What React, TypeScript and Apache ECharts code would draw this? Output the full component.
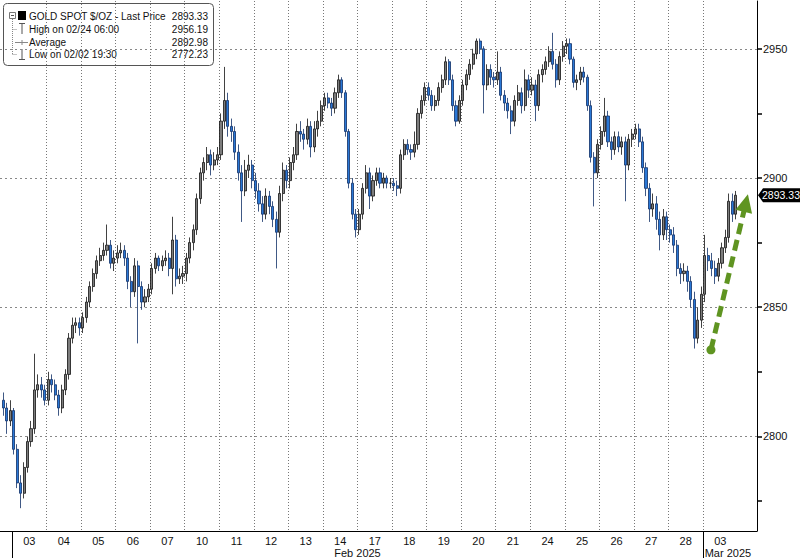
import React, { useEffect, useRef } from "react";
import * as echarts from "echarts";

// ---- Data ----
const dayLabels = ["03", "04", "05", "06", "07", "10", "11", "12", "13", "14", "17", "18", "19", "20", "21", "24", "25", "26", "27", "28", "03"];
const monthLabels = ["Feb 2025", "Mar 2025"];
const yTickValues = [2775, 2800, 2825, 2850, 2875, 2900, 2925, 2950];
const yLabelValues = [2800, 2850, 2900, 2950];

// bars of the previous session (Jan 31) visible at the left edge
const firstOpen = 2814;
const preCloses = [2811, 2806, 2810];
const preHighs = [2817, 2813, 2814];
const preLows = [2808, 2801, 2804];

// one row per trading day, 10 bars per day; open = previous close
const closes: number[][] = [
  [2795, 2782, 2778, 2788, 2798, 2803, 2818, 2820, 2818, 2814],
  [2822, 2820, 2816, 2811, 2818, 2824, 2838, 2843, 2844, 2842],
  [2846, 2852, 2858, 2863, 2868, 2870, 2872, 2874, 2867, 2869],
  [2871, 2872, 2869, 2860, 2856, 2866, 2858, 2852, 2854, 2857],
  [2865, 2869, 2866, 2868, 2869, 2865, 2876, 2861, 2862, 2863],
  [2869, 2875, 2880, 2892, 2902, 2906, 2909, 2905, 2907, 2909],
  [2922, 2930, 2920, 2918, 2910, 2902, 2895, 2903, 2905, 2899],
  [2895, 2890, 2886, 2893, 2889, 2884, 2879, 2894, 2903, 2899],
  [2906, 2909, 2918, 2917, 2915, 2920, 2912, 2919, 2922, 2928],
  [2931, 2929, 2927, 2933, 2938, 2933, 2918, 2898, 2886, 2880],
  [2886, 2896, 2902, 2893, 2899, 2902, 2898, 2900, 2898, 2898],
  [2897, 2896, 2909, 2913, 2911, 2910, 2913, 2925, 2930, 2935],
  [2932, 2928, 2930, 2935, 2938, 2945, 2938, 2928, 2922, 2930],
  [2936, 2940, 2944, 2948, 2953, 2950, 2936, 2942, 2939, 2938],
  [2941, 2932, 2929, 2926, 2922, 2930, 2933, 2928, 2938, 2934],
  [2936, 2928, 2940, 2942, 2945, 2949, 2944, 2938, 2947, 2951],
  [2952, 2946, 2937, 2938, 2941, 2939, 2928, 2908, 2902, 2913],
  [2918, 2924, 2914, 2911, 2916, 2912, 2914, 2905, 2915, 2917],
  [2919, 2914, 2904, 2896, 2888, 2890, 2884, 2878, 2885, 2880],
  [2878, 2874, 2865, 2863, 2864, 2860, 2853, 2838, 2845, 2855],
  [2870, 2868, 2865, 2862, 2867, 2873, 2877, 2891, 2886, 2893.33],
];
const highs: number[][] = [
  [2811, 2797, 2785, 2790, 2800, 2806, 2832, 2824, 2823, 2820],
  [2825, 2824, 2822, 2818, 2820, 2826, 2840, 2846, 2846, 2846],
  [2848, 2854, 2860, 2865, 2870, 2873, 2875, 2882, 2876, 2872],
  [2874, 2875, 2874, 2871, 2862, 2869, 2868, 2860, 2857, 2859],
  [2867, 2871, 2870, 2870, 2872, 2871, 2885, 2878, 2865, 2866],
  [2871, 2877, 2882, 2894, 2904, 2908, 2912, 2911, 2910, 2912],
  [2925, 2943, 2933, 2923, 2920, 2913, 2905, 2907, 2909, 2907],
  [2902, 2898, 2893, 2896, 2895, 2891, 2887, 2897, 2906, 2905],
  [2908, 2912, 2921, 2922, 2919, 2923, 2922, 2922, 2926, 2930],
  [2933, 2933, 2931, 2935, 2940, 2939, 2934, 2919, 2900, 2888],
  [2888, 2898, 2905, 2904, 2901, 2904, 2904, 2902, 2901, 2900],
  [2900, 2899, 2911, 2915, 2915, 2913, 2918, 2927, 2932, 2937],
  [2937, 2934, 2932, 2937, 2940, 2947, 2946, 2940, 2930, 2932],
  [2938, 2942, 2946, 2950, 2954, 2954, 2951, 2944, 2944, 2941],
  [2949, 2943, 2934, 2931, 2928, 2932, 2936, 2935, 2942, 2940],
  [2939, 2938, 2942, 2944, 2947, 2951, 2956.19, 2946, 2949, 2953],
  [2954, 2954, 2947, 2940, 2943, 2943, 2940, 2930, 2910, 2915],
  [2920, 2931, 2926, 2916, 2918, 2918, 2916, 2916, 2917, 2919],
  [2921, 2921, 2916, 2906, 2898, 2894, 2893, 2887, 2888, 2887],
  [2882, 2881, 2876, 2867, 2867, 2866, 2862, 2856, 2850, 2858],
  [2878, 2873, 2871, 2868, 2869, 2875, 2880, 2894, 2894, 2895],
];
const lows: number[][] = [
  [2793, 2780, 2772.23, 2776, 2786, 2796, 2801, 2815, 2815, 2812],
  [2812, 2817, 2814, 2808, 2809, 2816, 2822, 2836, 2840, 2839],
  [2840, 2844, 2850, 2856, 2861, 2866, 2868, 2870, 2865, 2864],
  [2867, 2869, 2866, 2857, 2850, 2854, 2836, 2849, 2850, 2852],
  [2855, 2863, 2864, 2864, 2866, 2862, 2855, 2858, 2859, 2859],
  [2860, 2867, 2872, 2878, 2890, 2899, 2903, 2901, 2903, 2905],
  [2907, 2919, 2916, 2914, 2907, 2899, 2883, 2893, 2900, 2896],
  [2892, 2887, 2883, 2884, 2886, 2881, 2865, 2877, 2891, 2896],
  [2896, 2903, 2907, 2914, 2911, 2913, 2908, 2910, 2916, 2920],
  [2926, 2927, 2924, 2925, 2931, 2931, 2916, 2896, 2884, 2877],
  [2878, 2884, 2894, 2888, 2891, 2897, 2896, 2896, 2896, 2896],
  [2895, 2893, 2894, 2907, 2909, 2907, 2908, 2911, 2923, 2928],
  [2930, 2926, 2926, 2928, 2933, 2936, 2936, 2926, 2920, 2921],
  [2928, 2934, 2938, 2942, 2946, 2948, 2925, 2934, 2936, 2935],
  [2936, 2930, 2926, 2923, 2917, 2920, 2928, 2925, 2926, 2931],
  [2932, 2922, 2926, 2937, 2940, 2943, 2942, 2935, 2936, 2945],
  [2948, 2944, 2935, 2934, 2936, 2937, 2926, 2906, 2889, 2900],
  [2911, 2916, 2912, 2907, 2909, 2910, 2909, 2891, 2903, 2912],
  [2915, 2912, 2902, 2893, 2883, 2885, 2880, 2872, 2876, 2876],
  [2875, 2871, 2862, 2859, 2860, 2856, 2850, 2834, 2836, 2842],
  [2852, 2864, 2862, 2859, 2860, 2865, 2871, 2875, 2883, 2884],
];

const lastPrice = 2893.33;
const legendRows = [
  { name: "GOLD SPOT $/OZ - Last Price", value: "2893.33" },
  { name: "High on 02/24 06:00", value: "2956.19" },
  { name: "Average", value: "2892.98" },
  { name: "Low on 02/02 19:30", value: "2772.23" },
];
// trend arrow annotation: [day position, price]
const arrowFrom = [20.23, 2833.5];
const arrowTo = [21.24, 2890.3];

// ---- layout constants ----
const X_MIN = -0.347;
const X_MAX = 21.563;
const Y_MIN = 2763.4;
const Y_MAX = 2968.5;
const BARS_PER_DAY = 10;
const FONT = "'Liberation Sans', Arial, sans-serif";

function buildBars() {
  const bars: number[][] = [];
  let prev = firstOpen;
  preCloses.forEach((c, i) => {
    bars.push([-0.3 + (i + 0.5) / BARS_PER_DAY, prev, c, preLows[i], preHighs[i]]);
    prev = c;
  });
  closes.forEach((row, d) => {
    row.forEach((c, i) => {
      bars.push([d + (i + 0.5) / BARS_PER_DAY, prev, c, lows[d][i], highs[d][i]]);
      prev = c;
    });
  });
  return bars;
}

export default function App() {
  const ref = useRef<HTMLDivElement>(null);
  useEffect(() => {
    if (!ref.current) return;
    const chart = echarts.init(ref.current, null, { renderer: "svg" });
    const boundaries = dayLabels.map((_, i) => i).filter((i) => i > 0);
    const centers = dayLabels.map((_, i) => i + 0.5);
    const rowY = [16, 29, 42, 54];

    const legendGraphics: any[] = [
      { type: "rect", shape: { x: 3.5, y: 3.5, width: 210, height: 62, r: 4 }, style: { fill: "#fff", stroke: "#555", lineWidth: 1 } },
      { type: "rect", shape: { x: 9.5, y: 12.5, width: 6, height: 6 }, style: { fill: "#fff", stroke: "#777", lineWidth: 1 } },
      { type: "line", shape: { x1: 11, y1: 15.5, x2: 14, y2: 15.5 }, style: { stroke: "#555", lineWidth: 1 } },
      { type: "line", shape: { x1: 12.5, y1: 19, x2: 12.5, y2: 54.5 }, style: { stroke: "#888", lineWidth: 1, lineDash: [1, 1] } },
      { type: "line", shape: { x1: 12.5, y1: 29.5, x2: 17, y2: 29.5 }, style: { stroke: "#888", lineWidth: 1, lineDash: [1, 1] } },
      { type: "line", shape: { x1: 12.5, y1: 54.5, x2: 17, y2: 54.5 }, style: { stroke: "#888", lineWidth: 1, lineDash: [1, 1] } },
      { type: "rect", shape: { x: 18, y: 11, width: 8, height: 9 }, style: { fill: "#000" } },
      { type: "line", shape: { x1: 19, y1: 23.5, x2: 25, y2: 23.5 }, style: { stroke: "#555", lineWidth: 1 } },
      { type: "line", shape: { x1: 22, y1: 23.5, x2: 22, y2: 34 }, style: { stroke: "#555", lineWidth: 1 } },
      { type: "line", shape: { x1: 15, y1: 42.5, x2: 28, y2: 42.5 }, style: { stroke: "#888", lineWidth: 1 } },
      { type: "line", shape: { x1: 22, y1: 40, x2: 22, y2: 45 }, style: { stroke: "#888", lineWidth: 1 } },
      { type: "line", shape: { x1: 22, y1: 49, x2: 22, y2: 59.5 }, style: { stroke: "#555", lineWidth: 1 } },
      { type: "line", shape: { x1: 19, y1: 59.5, x2: 25, y2: 59.5 }, style: { stroke: "#555", lineWidth: 1 } },
    ];
    legendRows.forEach((r, i) => {
      legendGraphics.push({
        type: "text",
        x: 29,
        y: rowY[i],
        style: { text: r.name, fill: "#111", font: `10px ${FONT}`, textVerticalAlign: "middle", textAlign: "left" },
      });
      legendGraphics.push({
        type: "text",
        x: 208,
        y: rowY[i],
        style: { text: r.value, fill: "#111", font: `10px ${FONT}`, textVerticalAlign: "middle", textAlign: "right" },
      });
    });

    const option: any = {
      animation: false,
      backgroundColor: "#fff",
      grid: { left: 0, right: 43, top: 1, bottom: 27, containLabel: false },
      xAxis: [
        {
          type: "value",
          min: X_MIN,
          max: X_MAX,
          position: "bottom",
          axisLine: { show: true, onZero: false, lineStyle: { color: "#000", width: 1 } },
          axisTick: { show: false, customValues: boundaries },
          splitLine: { show: true, lineStyle: { color: "#777", width: 1, type: [1, 2] } },
          axisLabel: {
            customValues: centers,
            formatter: (v: number) => dayLabels[Math.floor(v)] ?? "",
            margin: 4,
            fontSize: 11,
            fontFamily: FONT,
            color: "#111",
          },
        },
        {
          type: "value",
          min: X_MIN,
          max: X_MAX,
          position: "bottom",
          axisLine: { show: false, onZero: false },
          axisTick: { show: true, customValues: [0, 20], length: 27, lineStyle: { color: "#000", width: 1 } },
          splitLine: { show: false },
          axisLabel: {
            customValues: [10, 20.72],
            formatter: (v: number) => (v < 15 ? monthLabels[0] : monthLabels[1]),
            margin: 16,
            fontSize: 11,
            fontFamily: FONT,
            color: "#111",
          },
        },
      ],
      yAxis: [
        {
          type: "value",
          position: "right",
          min: Y_MIN,
          max: Y_MAX,
          axisLine: { show: true, onZero: false, lineStyle: { color: "#000", width: 1 } },
          axisTick: { show: true, customValues: yTickValues, length: 5, lineStyle: { color: "#000", width: 1.5 } },
          splitLine: { show: false },
          axisLabel: {
            customValues: yLabelValues,
            formatter: (v: number) => String(v),
            margin: 6,
            fontSize: 11,
            fontFamily: FONT,
            color: "#111",
          },
        },
        {
          type: "value",
          position: "right",
          min: Y_MIN,
          max: Y_MAX,
          axisLine: { show: false },
          axisTick: { show: false, customValues: yLabelValues },
          axisLabel: { show: false },
          splitLine: { show: true, lineStyle: { color: "#888", width: 1, type: [2, 3] } },
        },
      ],
      series: [
        {
          type: "candlestick",
          xAxisIndex: 0,
          yAxisIndex: 0,
          data: buildBars(),
          encode: { x: 0, y: [1, 2, 3, 4] },
          barWidth: 2.6,
          itemStyle: {
            color: "#7d7d7d",
            color0: "#2a78d6",
            borderColor: "#111",
            borderColor0: "#0f2f66",
            borderWidth: 0.8,
          },
          silent: true,
          markLine: {
            silent: true,
            animation: false,
            label: { show: false },
            lineStyle: { color: "#5f9421", width: 5, type: [11, 6], cap: "butt" },
            data: [
              [
                { coord: arrowFrom, symbol: "circle", symbolSize: 9, itemStyle: { color: "#5f9421" } },
                { coord: arrowTo, symbol: "triangle", symbolSize: [17, 18], itemStyle: { color: "#5f9421" } },
              ],
            ],
          },
          markPoint: {
            silent: true,
            animation: false,
            data: [
              {
                coord: [X_MAX, lastPrice],
                symbol: "path://M0,7L5,0L42,0L42,14L5,14Z",
                symbolSize: [42, 14],
                symbolKeepAspect: false,
                symbolOffset: [22, 0],
                itemStyle: { color: "#000" },
                label: {
                  show: true,
                  position: "inside",
                  offset: [2, 0],
                  formatter: lastPrice.toFixed(2),
                  color: "#fff",
                  fontSize: 10.5,
                  fontFamily: FONT,
                },
              },
            ],
          },
        },
      ],
      graphic: legendGraphics,
    };
    chart.setOption(option);
    return () => chart.dispose();
  }, []);
  return (
    <div
      ref={ref}
      style={{ position: "fixed", left: 0, top: 0, width: 800, height: 558, background: "#fff" }}
    />
  );
}
